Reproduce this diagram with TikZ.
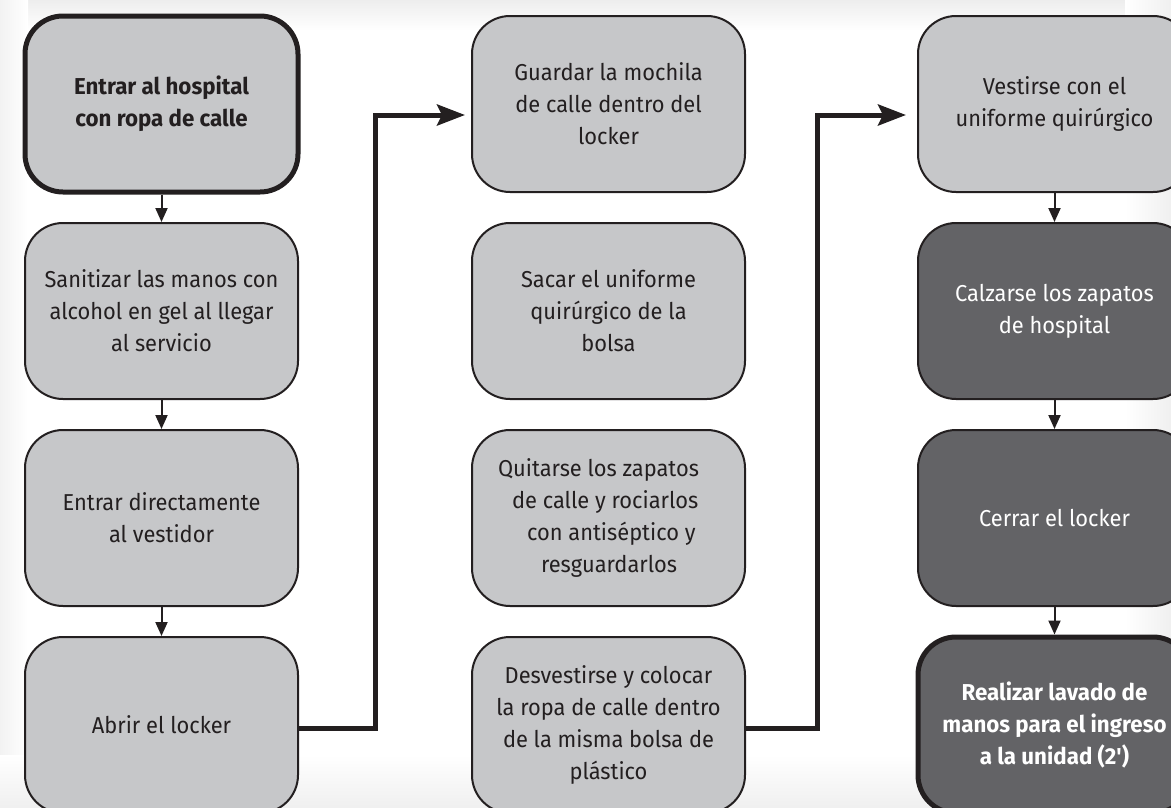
\documentclass[tikz,border=0pt]{standalone}
\usepackage{fontspec}
\setmainfont{Fira Sans}[FakeStretch=0.95]
\newfontfamily\keyfont{Fira Sans}[FakeStretch=0.97]
\usetikzlibrary{arrows.meta}
\definecolor{lightbox}{HTML}{C6C7C9}
\definecolor{darkbox}{HTML}{636366}
\definecolor{ink}{HTML}{231F20}
\tikzset{
  stepbox/.style={rectangle, rounded corners=38pt, minimum width=273pt, minimum height=176pt,
    draw=ink, line width=2pt, fill=lightbox, text=ink, align=center,
    font=\fontsize{23}{32}\selectfont, inner sep=0pt},
  darkstep/.style={stepbox, fill=darkbox, text=white},
  keystep/.style={line width=5pt, font=\keyfont\bfseries\fontsize{23}{32}\selectfont},
  smallarrow/.style={draw=ink, line width=2pt, -{Triangle[length=14pt,width=12pt]}},
  bigarrow/.style={draw=ink, line width=5pt, -{Stealth[length=28pt,width=21pt,inset=5pt]}},
}
\begin{document}
\begin{tikzpicture}[x=1pt,y=-1pt]
\useasboundingbox (0,0) rectangle (1171,807);
\fill[white] (0,0) rectangle (1171,807);
\shade[top color=black!7, bottom color=white] (0,0) rectangle (1171,30);
\shade[left color=black!5, right color=white] (0,0) rectangle (28,807);
\shade[top color=white, bottom color=black!6] (0,755) rectangle (1171,807);
\shade[left color=white, right color=black!6] (1125,0) rectangle (1171,807);
\clip (0,0) rectangle (1171,807);

% left column
\node[stepbox,keystep] (a1) at (161.5,104) {Entrar al hospital\\con ropa de calle};
\node[stepbox] (a2) at (161.5,311) {Sanitizar las manos con\\alcohol en gel al llegar\\al servicio};
\node[stepbox] (a3) at (161.5,518) {Entrar directamente\\al vestidor};
\node[stepbox] (a4) at (161.5,725) {Abrir el locker};

% middle column
\node[stepbox] (b1) at (608.5,104) {Guardar la mochila\\de calle dentro del\\locker};
\node[stepbox] (b2) at (608.5,311) {Sacar el uniforme\\quirúrgico de la\\bolsa};
\node[stepbox, align=left] (b3) at (608.5,518) {Quitarse los zapatos\hspace*{20pt}\\\hspace*{14pt}de calle y rociarlos\\\hspace*{29pt}con antiséptico y\\\hspace*{43pt}resguardarlos};
\node[stepbox] (b4) at (608.5,725) {Desvestirse y colocar\\la ropa de calle dentro\\de la misma bolsa de\\plástico};

% right column
\node[stepbox] (c1) at (1054.5,104) {Vestirse con el\\uniforme quirúrgico};
\node[darkstep] (c2) at (1054.5,311) {Calzarse los zapatos\\de hospital};
\node[darkstep] (c3) at (1054.5,518) {Cerrar el locker};
\node[darkstep,keystep] (c4) at (1054.5,725) {Realizar lavado de\\manos para el ingreso\\a la unidad (2')};

% connectors
\draw[smallarrow] (a1.south) -- (a2.north);
\draw[smallarrow] (a2.south) -- (a3.north);
\draw[smallarrow] (a3.south) -- (a4.north);
\draw[smallarrow] (c1.south) -- (c2.north);
\draw[smallarrow] (c2.south) -- (c3.north);
\draw[smallarrow] (c3.south) -- (c4.north);

\draw[bigarrow] ([yshift=-3pt]a4.east) -- ++(76,0) |- ([yshift=-11pt,xshift=-6pt]b1.west);
\draw[bigarrow] ([yshift=-3pt]b4.east) -- ++(71,0) |- ([yshift=-11pt,xshift=-11pt]c1.west);
\end{tikzpicture}
\end{document}
